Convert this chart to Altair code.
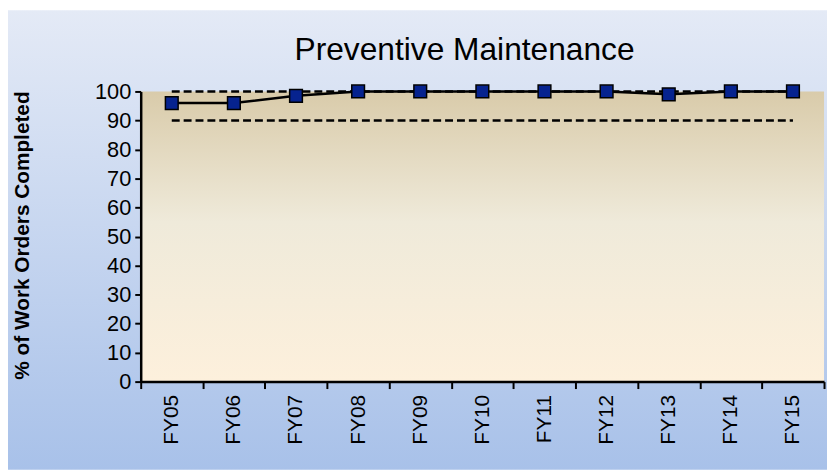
import altair as alt
import pandas as pd

title_text = "Preventive Maintenance"
years = ["FY05", "FY06", "FY07", "FY08", "FY09", "FY10", "FY11", "FY12", "FY13", "FY14", "FY15"]
completed = [96, 96, 98.5, 100, 100, 100, 100, 100, 99, 100, 100]
upper_goal = [100, 100, 100, 100, 100, 100, 100, 100, 100, 100, 100]
lower_goal = [90, 90, 90, 90, 90, 90, 90, 90, 90, 90, 90]

W, H = 690, 293
PL, PT, PR, PB = 134, 82, 3, 89

df = pd.DataFrame({"year": years, "value": completed})
goals = pd.DataFrame({
    "year": years * 2,
    "value": upper_goal + lower_goal,
    "goal": ["upper"] * len(years) + ["lower"] * len(years),
})

xenc = alt.X("year:N", sort=years, scale=alt.Scale(paddingInner=0, paddingOuter=0),
             axis=alt.Axis(title=None, labelAngle=-90, labelAlign="right", labelBaseline="middle",
                           labelFontSize=21, labelFont="Liberation Sans", labelColor="black",
                           labelPadding=6, tickBand="extent", tickSize=7, tickColor="black",
                           tickWidth=2, domainColor="black", domainWidth=2.5, grid=False, zindex=2))
yenc = alt.Y("value:Q", scale=alt.Scale(domain=[0, 100], nice=False),
             axis=alt.Axis(title="% of Work Orders Completed", values=list(range(0, 101, 10)),
                           labelFontSize=22, labelFont="Liberation Sans", labelColor="black",
                           labelPadding=4, tickSize=6, tickColor="black", tickWidth=2,
                           domainColor="black", domainWidth=2.5, grid=False,
                           titleFont="Liberation Sans", titleFontSize=21, titleFontWeight="bold",
                           titleColor="black", titleX=-119, titleY=145, titleAngle=-90,
                           titleAlign="center", titleBaseline="middle", zindex=2))

outer_bg = alt.Chart(alt.Data(values=[{}])).mark_rect(
    fill=alt.LinearGradient(gradient="linear", x1=0, x2=0, y1=0, y2=1,
                            stops=[alt.GradientStop(color="#e4eaf6", offset=0),
                                   alt.GradientStop(color="#a8c1e9", offset=1)]),
    clip=False,
).encode(x=alt.value(-PL), x2=alt.value(W + PR), y=alt.value(-PT), y2=alt.value(H + PB))

plot_bg = alt.Chart(alt.Data(values=[{}])).mark_rect(
    fill=alt.LinearGradient(gradient="linear", x1=0, x2=0, y1=0, y2=1,
                            stops=[alt.GradientStop(color="#d9cbaa", offset=0),
                                   alt.GradientStop(color="#efeada", offset=0.45),
                                   alt.GradientStop(color="#fdf0dc", offset=1)]),
).encode(x=alt.value(0), x2=alt.value(W), y=alt.value(0), y2=alt.value(H))

title_mark = alt.Chart(alt.Data(values=[{"t": title_text}])).mark_text(
    font="Liberation Sans", fontSize=32, color="black", align="center", baseline="alphabetic",
).encode(x=alt.value(469 - 142), y=alt.value(58 - 90), text="t:N")

goal_lines = alt.Chart(goals).mark_line(color="black", strokeWidth=2.5, strokeDash=[8, 4]).encode(
    x=xenc, y=yenc, detail="goal:N")

line = alt.Chart(df).mark_line(color="black", strokeWidth=2.5).encode(x=xenc, y=yenc)
points = alt.Chart(df).mark_point(shape="square", filled=True, fill="#06238f", stroke="black",
                                  strokeWidth=1.5, size=165, opacity=1).encode(x=xenc, y=yenc)

chart = alt.layer(outer_bg, plot_bg, title_mark, goal_lines, line, points).properties(
    width=W, height=H,
    autosize=alt.AutoSizeParams(type="none"),
    padding={"left": PL, "top": PT, "right": PR, "bottom": PB},
).configure_view(stroke=None).configure(background="white")

chart.save("out.html", embed_options={"renderer": "svg", "actions": False})
